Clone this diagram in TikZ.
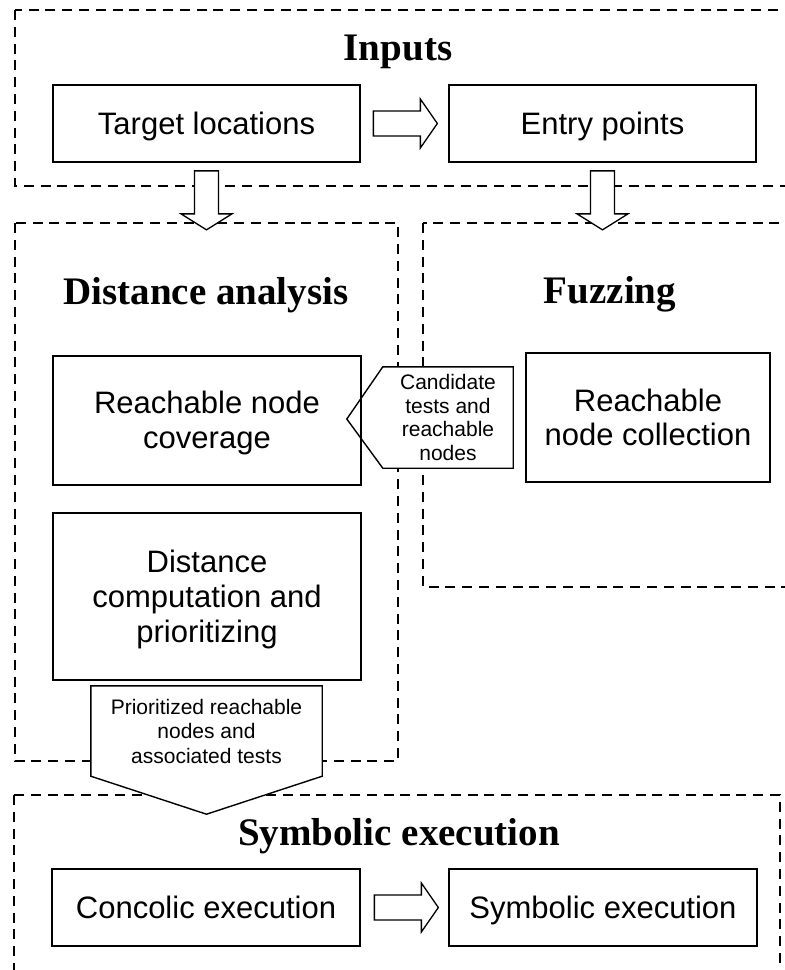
\documentclass[tikz,border=0pt]{standalone}
\usepackage{fontspec}
\setmainfont{Liberation Serif}
\newfontfamily\sansbox{Liberation Sans}
\usetikzlibrary{calc}
\pgfdeclarelayer{frames}
\pgfdeclarelayer{fills}
\pgfsetlayers{frames,fills,main}

% extra height on the first line so that a multi-line block is centred on its letters
\newcommand\capstrut{\rule{0pt}{28pt}}

\begin{document}
\begin{tikzpicture}[x=1pt,y=-1pt,
  groupframe/.style={draw, line width=2.8pt, dash pattern=on 10pt off 6.8pt},
  stepbox/.style={draw, line width=2.7pt, inner sep=0pt, align=center,
                  font=\sansbox\fontsize{31}{34.8}\selectfont},
  oneline/.style={text height=21.8pt, text depth=0pt},
  grouptitle/.style={anchor=base, inner sep=0pt, font=\bfseries\fontsize{39}{44}\selectfont},
  notetext/.style={inner sep=0pt, align=center},
  calloutshape/.style={draw, fill=white, line width=1.4pt, line join=miter},
  blockarrow/.style={draw, fill=white, line width=1.3pt, line join=miter},
  pics/rightblock/.style={code={
    \draw[blockarrow] (0,-12.5) -- (47,-12.5) -- (47,-24.5) -- (64,0)
                      -- (47,24.5) -- (47,12.5) -- (0,12.5) -- cycle;}},
  pics/downblock/.style={code={
    \draw[blockarrow] (-12,0) -- (-12,43) -- (-25.5,43) -- (0,59)
                      -- (25.5,43) -- (12,43) -- (12,0) -- cycle;}},
]
\useasboundingbox (0,0) rectangle (785,970);

% dashed group frames
\begin{pgfonlayer}{frames}
  \fill[white] (0,0) rectangle (785,970);
  \clip (0,0) rectangle (785,970);
  \draw[groupframe] (15,10) rectangle (800,186);
  \draw[groupframe] (15,223) rectangle (398,761);
  \draw[groupframe] (423,223) rectangle (800,587);
  \draw[groupframe] (14,795) rectangle (780,1000);
\end{pgfonlayer}

% group titles
\node[grouptitle] (inputsT) at (398,60) {Inputs};
\node[grouptitle] (distT) at (206,304) {Distance analysis};
\node[grouptitle] (fuzzT) at (610,303) {Fuzzing};
\node[grouptitle] (symT) at (399,845) {Symbolic execution};

% steps
\node[stepbox, oneline, minimum width=307pt, minimum height=77pt] (target) at (206.5,123.5) {Target locations};
\node[stepbox, oneline, minimum width=307pt, minimum height=77pt] (entry) at (602.5,123.5) {Entry points};
\node[stepbox, minimum width=308pt, minimum height=129pt] (cover) at (207,420.5) {\capstrut Reachable node\\coverage};
\node[stepbox, minimum width=308pt, minimum height=167pt] (prior) at (207,596.5) {\capstrut Distance\\computation and\\prioritizing};
\node[stepbox, minimum width=244pt, minimum height=129pt] (collect) at (648,417.5) {Reachable\\node collection};
\node[stepbox, oneline, minimum width=308pt, minimum height=77pt] (concolic) at (206,907.5) {Concolic execution};
\node[stepbox, oneline, minimum width=308pt, minimum height=77pt] (symbolic) at (603,907.5) {Symbolic execution};

% callouts carrying data between the groups
\node[notetext, font=\sansbox\fontsize{21}{23.5}\selectfont,
      minimum width=130pt, minimum height=101pt] (cand) at (448,417.5)
      {Candidate\\tests and\\reachable\\nodes};
\coordinate (candtip) at ($(cand.west)+(-36,1.5)$);
\node[notetext, font=\sansbox\fontsize{21}{24.5}\selectfont,
      minimum width=231pt, minimum height=90pt] (prio) at (206.5,731)
      {Prioritized reachable\\nodes and\\associated tests};
\coordinate (priotip) at ($(prio.south)+(0,38)$);
\begin{pgfonlayer}{fills}
  \draw[calloutshape] (cand.north east) -- (cand.north west) -- (candtip)
        -- (cand.south west) -- (cand.south east) -- cycle;
  \draw[calloutshape] (prio.north west) -- (prio.north east) -- (prio.south east)
        -- (priotip) -- (prio.south west) -- cycle;
\end{pgfonlayer}

% hollow block arrows
\pic at ($(target.east)+(12,0)$) {rightblock};
\pic at ($(concolic.east)+(13,0)$) {rightblock};
\pic at ($(target.south)+(0,7.5)$) {downblock};
\pic at ($(entry.south)+(0,7.5)$) {downblock};
\end{tikzpicture}
\end{document}
